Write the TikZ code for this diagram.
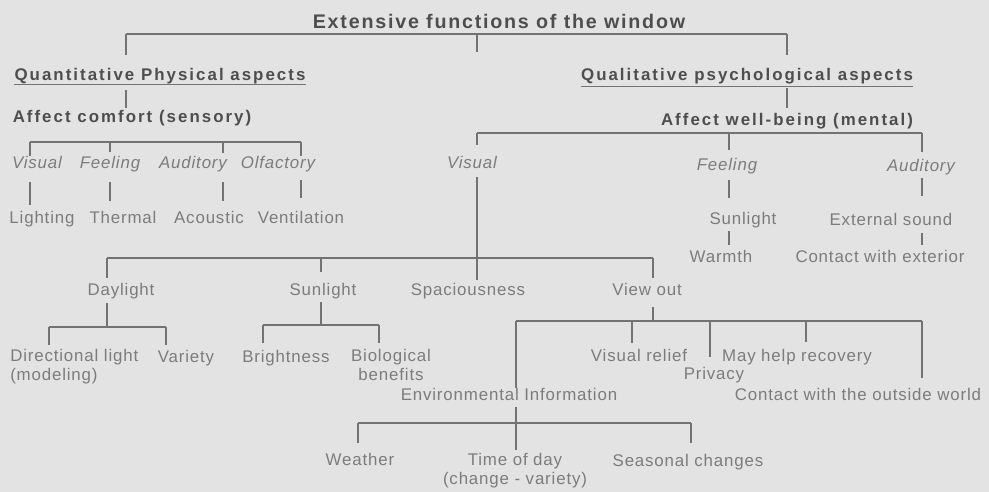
\documentclass[tikz,border=0pt]{standalone}
\usepackage{fontspec}
\setmainfont{Liberation Sans}
\newfontfamily\labelfont[LetterSpace=5]{Liberation Sans}
\newfontfamily\headfont[LetterSpace=12]{Liberation Sans}
\newfontfamily\titlefont[LetterSpace=9]{Liberation Sans}
\usepackage{tikz}
\usetikzlibrary{calc}
\definecolor{paper}{RGB}{227,227,227}
\definecolor{headink}{RGB}{78,78,78}
\definecolor{labelink}{RGB}{124,124,124}
\newcommand{\linkcolor}{black!55}
\newcommand{\linkwidth}{0.9pt}
\newdimen\px
\px=0.025cm
\tikzset{
  ink/.style={inner sep=0pt, text=labelink, font=\labelfont\fontsize{12}{13.5}\selectfont},
  txt/.style={ink, text height=9pt, text depth=2.6pt},
  sense/.style={txt, font=\labelfont\itshape\fontsize{12}{13.5}\selectfont},
  twoline/.style={ink, align=#1},
  head/.style={txt, text=headink, font=\headfont\bfseries\fontsize{12}{14}\selectfont},
  toptitle/.style={head, font=\titlefont\bfseries\fontsize{14}{16}\selectfont},
  link/.style={draw=\linkcolor, line width=\linkwidth},
}

\begin{document}
\begin{tikzpicture}[x=0.025cm, y=-0.025cm]
\fill[paper] (0,0) rectangle (989,492);
\useasboundingbox (0,0) rectangle (989,492);
%headings
\node[toptitle] (title) at (499,24) {Extensive functions of the window};
\node[head] (quant) at (160,76) {Quantitative Physical aspects};
\node[head] (qual) at (747,76) {Qualitative psychological aspects};
\node[head] (comfort) at (132,118) {Affect comfort (sensory)};
\node[head] (wellbeing) at (787,121) {Affect well-being (mental)};
%sensory
\node[sense] (visualL) at (37,164) {Visual};
\node[sense] (feelingL) at (110,164) {Feeling};
\node[sense] (auditoryL) at (193,164) {Auditory};
\node[sense] (olfactoryL) at (278,164) {Olfactory};
\node[txt] (lighting) at (42,219) {Lighting};
\node[txt] (thermal) at (123,219) {Thermal};
\node[txt] (acoustic) at (209,219) {Acoustic};
\node[txt] (ventilation) at (301,219) {Ventilation};
%mental
\node[sense] (visualR) at (472,164) {Visual};
\node[sense] (feelingR) at (727,166) {Feeling};
\node[sense] (auditoryR) at (921,167) {Auditory};
\node[txt] (sunlightR) at (743,220) {Sunlight};
\node[txt] (extsound) at (891,221) {External sound};
\node[txt] (warmth) at (721,258) {Warmth};
\node[txt] (contactext) at (880,258) {Contact with exterior};
%visual
\node[txt] (daylight) at (121,291) {Daylight};
\node[txt] (sunlight) at (323,291) {Sunlight};
\node[txt] (spacious) at (468,291) {Spaciousness};
\node[txt] (viewout) at (647,291) {View out};
\node[twoline=left, anchor=north west] (directional) at (10,349) {Directional light\\(modeling)};
\node[txt] (variety) at (186,358) {Variety};
\node[txt] (brightness) at (286,358) {Brightness};
\node[twoline=center, anchor=north] (biological) at (391,349) {Biological\\benefits};
\node[txt] (visrelief) at (639,357) {Visual relief};
\node[txt] (recovery) at (797,357) {May help recovery};
\node[txt] (privacy) at (714,375) {Privacy};
\node[txt] (envinfo) at (509,396) {Environmental Information};
\node[txt] (outside) at (858,396) {Contact with the outside world};
\node[txt] (weather) at (360,461) {Weather};
\node[twoline=center, anchor=north] (timeofday) at (515,453) {Time of day\\(change - variety)};
\node[txt] (seasonal) at (688,462) {Seasonal changes};
%junctions
\coordinate (t1) at (126,34);
\coordinate (t2) at (477,34);
\coordinate (t3) at (787,34);
\coordinate (c1) at (30,142);
\coordinate (c2) at (110,142);
\coordinate (c3) at (223,142);
\coordinate (c4) at (301,142);
\coordinate (m1) at (477,133);
\coordinate (m2) at (729,133);
\coordinate (m3) at (922,133);
\coordinate (v1) at (107,258);
\coordinate (v2) at (321,258);
\coordinate (v4) at (653,258);
\coordinate (d1) at (49,327);
\coordinate (d2) at (107,327);
\coordinate (d3) at (166,327);
\coordinate (s1) at (263,325);
\coordinate (s2) at (321,325);
\coordinate (s3) at (379,325);
\coordinate (o0) at (653,321);
\coordinate (o1) at (516,321);
\coordinate (o2) at (632,321);
\coordinate (o3) at (710,321);
\coordinate (o4) at (806,321);
\coordinate (o5) at (922,321);
\coordinate (e1) at (358,423);
\coordinate (e3) at (691,423);
%underlines
\draw[link, line width=1pt] (quant.south west) -- (quant.south east);
\draw[link, line width=1pt] ([yshift=-1.4pt]qual.south west) -- ([yshift=-1.4pt]qual.south east);
%top
\draw[link] (t1) -- (t3);
\draw[link, shorten >=13\px] (t1) -- (t1 |- quant.north);
\draw[link, shorten >=16\px] (t2) -- (t2 |- quant.north);
\draw[link, shorten >=13\px] (t3) -- (t3 |- qual.north);
\draw[link, shorten <=6\px, shorten >=2\px] (t1 |- quant.south) -- (t1 |- comfort.north);
\draw[link, shorten <=4\px, shorten >=5\px] (t3 |- qual.south) -- (t3 |- wellbeing.north);
%sensory
\draw[link] (c1) -- (c4);
\draw[link] (c1) -- (c1 |- visualL.north);
\draw[link, shorten >=4\px] (c2) -- (c2 |- feelingL.north);
\draw[link, shorten >=3\px] (c3) -- (c3 |- auditoryL.north);
\draw[link] (c4) -- (c4 |- olfactoryL.north);
\draw[link, shorten <=10\px, shorten >=6\px] (c1 |- visualL.south) -- (c1 |- lighting.north);
\draw[link, shorten <=10\px, shorten >=10\px] (c2 |- feelingL.south) -- (c2 |- thermal.north);
\draw[link, shorten <=10\px, shorten >=10\px] (c3 |- auditoryL.south) -- (c3 |- acoustic.north);
\draw[link, shorten <=8\px, shorten >=13\px] (c4 |- olfactoryL.south) -- (c4 |- ventilation.north);
%mental
\draw[link] (m1) -- (m3);
\draw[link, shorten >=11\px] (m1) -- (m1 |- visualR.north);
\draw[link, shorten >=8\px] (m2) -- (m2 |- feelingR.north);
\draw[link, shorten >=7\px] (m3) -- (m3 |- auditoryR.north);
\draw[link, shorten <=6\px, shorten >=14\px] (m2 |- feelingR.south) -- (m2 |- sunlightR.north);
\draw[link, shorten <=3\px, shorten >=5\px] (m2 |- sunlightR.south) -- (m2 |- warmth.north);
\draw[link, shorten <=3\px, shorten >=17\px] (m3 |- auditoryR.south) -- (m3 |- extsound.north);
\draw[link, shorten <=4\px, shorten >=5\px] (m3 |- extsound.south) -- (m3 |- contactext.north);
%visual
\draw[link, shorten <=5\px, shorten >=3\px] (m1 |- visualR.south) -- (m1 |- spacious.north);
\draw[link] (v1) -- (v4);
\draw[link, shorten >=5\px] (v1) -- (v1 |- daylight.north);
\draw[link, shorten >=11\px] (v2) -- (v2 |- sunlight.north);
\draw[link, shorten >=5\px] (v4) -- (v4 |- viewout.north);
%daylight
\draw[link, shorten <=4\px] (v1 |- daylight.south) -- (d2);
\draw[link] (d1) -- (d3);
\draw[link, shorten >=4\px] (d1) -- (d1 |- directional.north);
\draw[link, shorten >=5\px] (d3) -- (d3 |- variety.north);
%sunlight
\draw[link, shorten <=3\px] (v2 |- sunlight.south) -- (s2);
\draw[link] (s1) -- (s3);
\draw[link, shorten >=7\px] (s1) -- (s1 |- brightness.north);
\draw[link, shorten >=6\px] (s3) -- (s3 |- biological.north);
%view out
\draw[link, shorten <=8\px] (v4 |- viewout.south) -- (o0);
\draw[link] (o1) -- (o5);
\draw[link] (o1) -- (o1 |- envinfo.north);
\draw[link, shorten >=6\px] (o2) -- (o2 |- visrelief.north);
\draw[link, shorten >=10\px] (o3) -- (o3 |- privacy.north);
\draw[link, shorten >=7\px] (o4) -- (o4 |- recovery.north);
\draw[link, shorten >=10\px] (o5) -- (o5 |- outside.north);
%environment
\draw[link, shorten <=3\px, shorten >=3\px] (o1 |- envinfo.south) -- (o1 |- timeofday.north);
\draw[link] (e1) -- (e3);
\draw[link, shorten >=10\px] (e1) -- (e1 |- weather.north);
\draw[link, shorten >=11\px] (e3) -- (e3 |- seasonal.north);
\end{tikzpicture}
\end{document}
